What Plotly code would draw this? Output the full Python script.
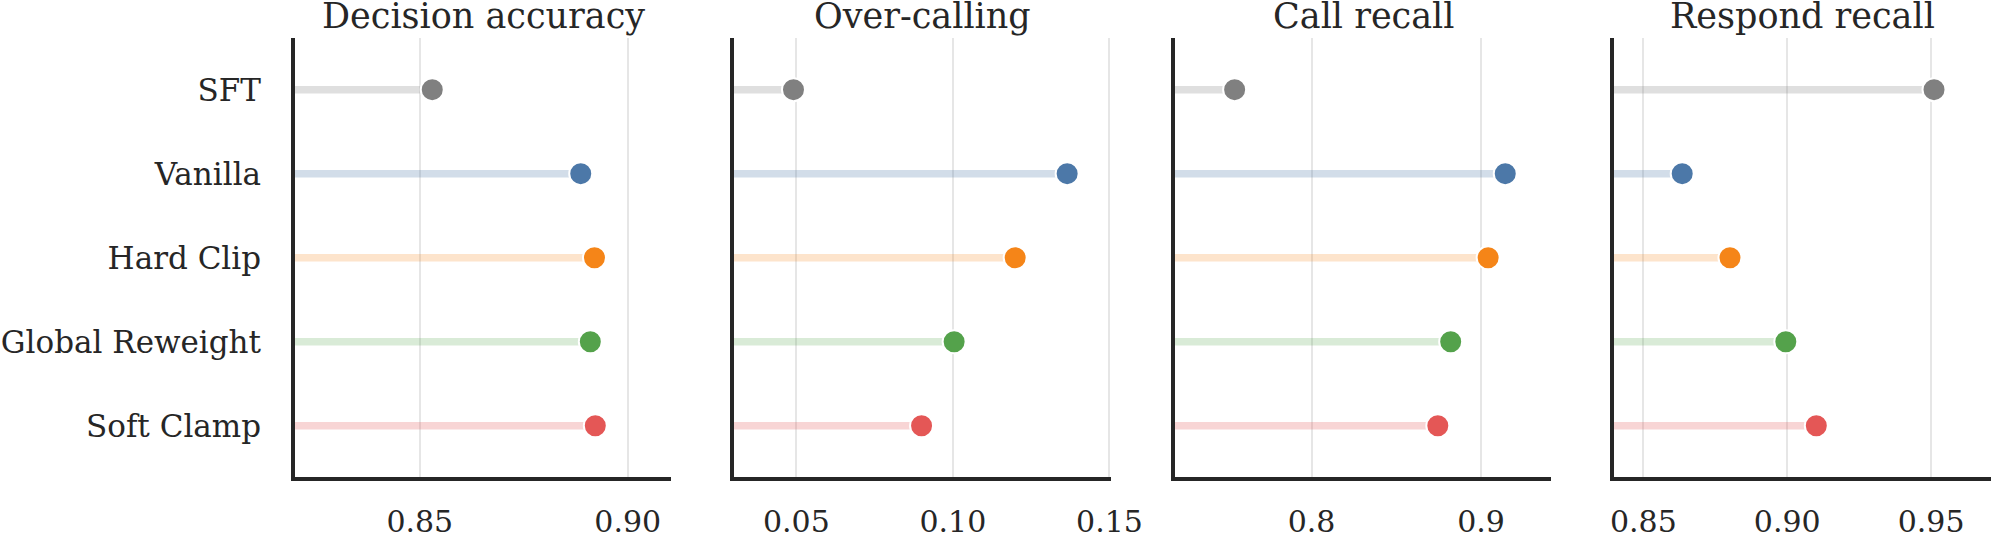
import plotly.graph_objects as go

methods = ["SFT", "Vanilla", "Hard Clip", "Global Reweight", "Soft Clamp"]
panel_titles = ["Decision accuracy", "Over-calling", "Call recall", "Respond recall"]

decision_accuracy = [0.853, 0.8887, 0.892, 0.891, 0.8922]
over_calling = [0.0491, 0.1365, 0.1199, 0.1004, 0.090]
call_recall = [0.7546, 0.9143, 0.9042, 0.8821, 0.8745]
respond_recall = [0.951, 0.8635, 0.8801, 0.8995, 0.9101]

x_ranges = [[0.820, 0.9104], [0.0301, 0.1505], [0.7194, 0.9413], [0.8398, 0.9708]]
x_ticks = [[0.85, 0.90], [0.05, 0.10, 0.15], [0.8, 0.9], [0.85, 0.90, 0.95]]
x_formats = [".2f", ".2f", ".1f", ".2f"]

colors = ["#808080", "#4C78A8", "#F58518", "#54A24B", "#E45756"]
stem_colors = ["rgba(128,128,128,0.25)", "rgba(76,120,168,0.25)", "rgba(245,133,24,0.22)",
               "rgba(84,162,75,0.22)", "rgba(228,87,86,0.25)"]

W, H = 1991, 537
panel_px = [(295, 671), (734, 1111), (1175, 1551), (1614, 1991)]
top_px, bot_px = 38, 477
ydom = [(H - bot_px) / H, (H - top_px) / H]

FONT = "DejaVu Serif"
TXT = "#262626"

fig = go.Figure()
series = [decision_accuracy, over_calling, call_recall, respond_recall]

for p, vals in enumerate(series):
    xa = "x" if p == 0 else f"x{p+1}"
    ya = "y" if p == 0 else f"y{p+1}"
    x0 = x_ranges[p][0]
    for i, m in enumerate(methods):
        fig.add_trace(go.Scatter(
            x=[x0, vals[i]], y=[m, m], mode="lines",
            line=dict(color=stem_colors[i], width=7.5),
            xaxis=xa, yaxis=ya, showlegend=False, hoverinfo="skip"))
    fig.add_trace(go.Scatter(
        x=vals, y=methods, mode="markers",
        marker=dict(color=colors, size=23, line=dict(color="white", width=2)),
        xaxis=xa, yaxis=ya, showlegend=False))

layout = dict(
    width=W, height=H,
    margin=dict(l=0, r=0, t=0, b=0),
    paper_bgcolor="white", plot_bgcolor="white",
    font=dict(family=FONT, color=TXT, size=30),
)

annotations = []
for p in range(4):
    xs = "" if p == 0 else str(p + 1)
    l, r = panel_px[p]
    layout[f"xaxis{xs}"] = dict(
        domain=[l / W, r / W], range=x_ranges[p], anchor=f"y{xs}",
        tickvals=x_ticks[p], tickformat=x_formats[p],
        showgrid=True, gridcolor="#e6e6e6", gridwidth=2,
        showline=True, linecolor=TXT, linewidth=3.5,
        ticks="outside", ticklen=15, tickcolor="rgba(0,0,0,0)",
        tickfont=dict(family=FONT, size=30, color=TXT),
        zeroline=False, automargin=False, fixedrange=True)
    layout[f"yaxis{xs}"] = dict(
        domain=ydom, anchor=f"x{xs}", type="category",
        categoryorder="array", categoryarray=methods,
        range=[4.61, -0.615],
        showgrid=False, showline=True, linecolor=TXT, linewidth=3.5,
        showticklabels=(p == 0),
        ticks="outside", ticklen=24, tickcolor="rgba(0,0,0,0)",
        tickfont=dict(family=FONT, size=31, color=TXT),
        zeroline=False, automargin=False, fixedrange=True)
    annotations.append(dict(
        text=panel_titles[p], x=(l + r) / 2 / W, y=1 - 16 / H,
        xref="paper", yref="paper", xanchor="center", yanchor="middle",
        showarrow=False, font=dict(family=FONT, size=35, color=TXT)))

layout["annotations"] = annotations
fig.update_layout(**layout)
fig.write_html("out.html")
